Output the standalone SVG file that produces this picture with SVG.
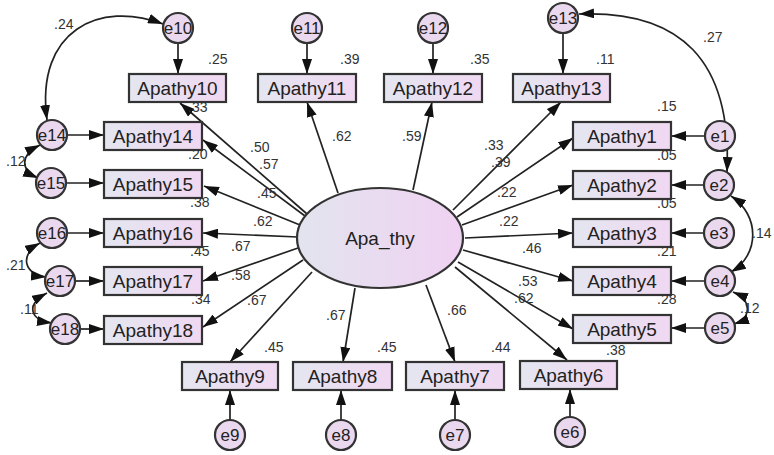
<svg xmlns="http://www.w3.org/2000/svg" width="774" height="455" viewBox="0 0 774 455">
  <defs>
    <linearGradient id="boxFill" x1="0" y1="0" x2="1" y2="0">
      <stop offset="0" stop-color="#e4e6f0"/>
      <stop offset="1" stop-color="#f0d8f2"/>
    </linearGradient>
    <linearGradient id="latentFill" x1="0" y1="0" x2="1" y2="0">
      <stop offset="0" stop-color="#e2e4ee"/>
      <stop offset="1" stop-color="#f0d2f2"/>
    </linearGradient>
    <marker id="ah" viewBox="0 0 15 10" refX="15" refY="5" markerWidth="15" markerHeight="10" markerUnits="userSpaceOnUse" orient="auto-start-reverse">
      <path d="M0,0 L15,5 L0,10 z" fill="#111"/>
    </marker>
    <style>
      .box { fill: url(#boxFill); stroke: #333; stroke-width: 2.2; }
      .err { fill: #ead8ef; stroke: #333; stroke-width: 2.2; }
      .lat { fill: url(#latentFill); stroke: #333; stroke-width: 2.2; }
      .lbl { font-family: "Liberation Sans", Arial, sans-serif; font-size: 19px; fill: #222; text-anchor: middle; }
      .elbl { font-family: "Liberation Sans", Arial, sans-serif; font-size: 17px; fill: #222; text-anchor: middle; }
      .num { font-family: "Liberation Sans", Arial, sans-serif; font-size: 14px; fill: #333; }
      .path { stroke: #222; stroke-width: 1.7; fill: none; marker-end: url(#ah); }
      .cov { stroke: #222; stroke-width: 1.7; fill: none; marker-start: url(#ah); marker-end: url(#ah); }
    </style>
  </defs>

  <rect width="774" height="455" fill="#ffffff"/>

  <!-- connectors: loadings, error terms and covariances -->
  <g id="connectors">
    <!-- latent to indicators -->
    <line class="path" x1="307" y1="214" x2="180" y2="103"/>
    <line class="path" x1="305" y1="216" x2="203" y2="140"/>
    <line class="path" x1="300" y1="225" x2="204" y2="186"/>
    <line class="path" x1="298" y1="237" x2="203" y2="233"/>
    <line class="path" x1="298" y1="248" x2="203" y2="281"/>
    <line class="path" x1="303" y1="260" x2="203" y2="327"/>
    <line class="path" x1="312" y1="272" x2="230" y2="362"/>
    <line class="path" x1="355" y1="288" x2="343" y2="362"/>
    <line class="path" x1="426" y1="285" x2="455" y2="362"/>
    <line class="path" x1="455" y1="267" x2="567" y2="360"/>
    <line class="path" x1="458" y1="262" x2="573" y2="329"/>
    <line class="path" x1="463" y1="250" x2="573" y2="281"/>
    <line class="path" x1="465" y1="238" x2="573" y2="233"/>
    <line class="path" x1="462" y1="225" x2="573" y2="185"/>
    <line class="path" x1="457" y1="217" x2="573" y2="138"/>
    <line class="path" x1="453" y1="210" x2="561" y2="102"/>
    <line class="path" x1="413" y1="190" x2="432" y2="102"/>
    <line class="path" x1="338" y1="193" x2="307" y2="102"/>

    <!-- error terms to indicators -->
    <line class="path" x1="178" y1="43" x2="178" y2="74"/>
    <line class="path" x1="307" y1="43" x2="307" y2="74"/>
    <line class="path" x1="433" y1="43" x2="433" y2="74"/>
    <line class="path" x1="563" y1="33" x2="563" y2="74"/>
    <line class="path" x1="705" y1="136" x2="671" y2="136"/>
    <line class="path" x1="704" y1="185" x2="671" y2="185"/>
    <line class="path" x1="704" y1="233" x2="671" y2="233"/>
    <line class="path" x1="705" y1="281" x2="671" y2="281"/>
    <line class="path" x1="705" y1="328" x2="671" y2="328"/>
    <line class="path" x1="67" y1="135" x2="104" y2="135"/>
    <line class="path" x1="66" y1="183" x2="104" y2="183"/>
    <line class="path" x1="67" y1="233" x2="104" y2="233"/>
    <line class="path" x1="75" y1="281" x2="104" y2="281"/>
    <line class="path" x1="80" y1="329" x2="104" y2="329"/>
    <line class="path" x1="230" y1="420" x2="230" y2="390"/>
    <line class="path" x1="341" y1="420" x2="341" y2="390"/>
    <line class="path" x1="455" y1="420" x2="455" y2="390"/>
    <line class="path" x1="570" y1="417" x2="570" y2="389"/>

    <!-- error covariances -->
    <path class="cov" d="M 163 24 C 100 0 35 30 47 120"/>
    <path class="cov" d="M 579 14 C 680 10 732 60 727 172"/>
    <path class="cov" d="M 731 196 C 760 215 760 255 731 272"/>
    <path class="cov" d="M 733 292 C 752 300 752 318 734 324"/>
    <path class="cov" d="M 40 145 C 20 155 20 170 38 178"/>
    <path class="cov" d="M 40 243 C 18 255 25 275 46 277"/>
    <path class="cov" d="M 47 293 C 25 305 30 320 52 323"/>
  </g>

  <!-- latent factor -->
  <g id="Apa_thy">
    <ellipse class="lat" cx="380" cy="238" rx="83" ry="50"/>
    <text class="lbl" x="380" y="245" font-size="20">Apa_thy</text>
  </g>

  <!-- indicators, top row -->
  <g id="Apathy10"><rect class="box" x="129" y="74" width="97" height="28"/><text class="lbl" x="177.5" y="95">Apathy10</text></g>
  <g id="Apathy11"><rect class="box" x="258" y="74" width="98" height="28"/><text class="lbl" x="307" y="95">Apathy11</text></g>
  <g id="Apathy12"><rect class="box" x="384" y="74" width="98" height="28"/><text class="lbl" x="433" y="95">Apathy12</text></g>
  <g id="Apathy13"><rect class="box" x="513" y="74" width="97" height="28"/><text class="lbl" x="561.5" y="95">Apathy13</text></g>

  <!-- indicators, right column -->
  <g id="Apathy1"><rect class="box" x="573" y="122" width="98" height="28"/><text class="lbl" x="622" y="143">Apathy1</text></g>
  <g id="Apathy2"><rect class="box" x="573" y="171" width="98" height="28"/><text class="lbl" x="622" y="192">Apathy2</text></g>
  <g id="Apathy3"><rect class="box" x="573" y="219" width="98" height="28"/><text class="lbl" x="622" y="240">Apathy3</text></g>
  <g id="Apathy4"><rect class="box" x="573" y="267" width="98" height="28"/><text class="lbl" x="622" y="288">Apathy4</text></g>
  <g id="Apathy5"><rect class="box" x="573" y="315" width="98" height="28"/><text class="lbl" x="622" y="336">Apathy5</text></g>

  <!-- indicators, left column -->
  <g id="Apathy14"><rect class="box" x="104" y="122" width="98" height="28"/><text class="lbl" x="153" y="143">Apathy14</text></g>
  <g id="Apathy15"><rect class="box" x="104" y="170" width="98" height="28"/><text class="lbl" x="153" y="191">Apathy15</text></g>
  <g id="Apathy16"><rect class="box" x="104" y="219" width="98" height="28"/><text class="lbl" x="153" y="240">Apathy16</text></g>
  <g id="Apathy17"><rect class="box" x="104" y="267" width="98" height="28"/><text class="lbl" x="153" y="288">Apathy17</text></g>
  <g id="Apathy18"><rect class="box" x="104" y="316" width="98" height="28"/><text class="lbl" x="153" y="337">Apathy18</text></g>

  <!-- indicators, bottom row -->
  <g id="Apathy9"><rect class="box" x="182" y="362" width="96" height="28"/><text class="lbl" x="230" y="383">Apathy9</text></g>
  <g id="Apathy8"><rect class="box" x="293" y="362" width="99" height="28"/><text class="lbl" x="342.5" y="383">Apathy8</text></g>
  <g id="Apathy7"><rect class="box" x="406" y="362" width="98" height="28"/><text class="lbl" x="455" y="383">Apathy7</text></g>
  <g id="Apathy6"><rect class="box" x="520" y="361" width="97" height="28"/><text class="lbl" x="568.5" y="382">Apathy6</text></g>

  <!-- error terms -->
  <g id="e10"><circle class="err" cx="178" cy="28" r="15"/><text class="elbl" x="178" y="34">e10</text></g>
  <g id="e11"><circle class="err" cx="307" cy="28" r="15"/><text class="elbl" x="307" y="34">e11</text></g>
  <g id="e12"><circle class="err" cx="433" cy="28" r="15"/><text class="elbl" x="433" y="34">e12</text></g>
  <g id="e13"><circle class="err" cx="563" cy="18" r="15"/><text class="elbl" x="563" y="24">e13</text></g>
  <g id="e1"><circle class="err" cx="720" cy="136" r="15"/><text class="elbl" x="720" y="142">e1</text></g>
  <g id="e2"><circle class="err" cx="719" cy="185" r="15"/><text class="elbl" x="719" y="191">e2</text></g>
  <g id="e3"><circle class="err" cx="719" cy="233" r="15"/><text class="elbl" x="719" y="239">e3</text></g>
  <g id="e4"><circle class="err" cx="720" cy="281" r="15"/><text class="elbl" x="720" y="287">e4</text></g>
  <g id="e5"><circle class="err" cx="720" cy="328" r="15"/><text class="elbl" x="720" y="334">e5</text></g>
  <g id="e14"><circle class="err" cx="52" cy="135" r="15"/><text class="elbl" x="52" y="141">e14</text></g>
  <g id="e15"><circle class="err" cx="51" cy="183" r="15"/><text class="elbl" x="51" y="189">e15</text></g>
  <g id="e16"><circle class="err" cx="52" cy="233" r="15"/><text class="elbl" x="52" y="239">e16</text></g>
  <g id="e17"><circle class="err" cx="60" cy="281" r="15"/><text class="elbl" x="60" y="287">e17</text></g>
  <g id="e18"><circle class="err" cx="65" cy="329" r="15"/><text class="elbl" x="65" y="335">e18</text></g>
  <g id="e9"><circle class="err" cx="230" cy="435" r="15"/><text class="elbl" x="230" y="441">e9</text></g>
  <g id="e8"><circle class="err" cx="341" cy="435" r="15"/><text class="elbl" x="341" y="441">e8</text></g>
  <g id="e7"><circle class="err" cx="455" cy="435" r="15"/><text class="elbl" x="455" y="441">e7</text></g>
  <g id="e6"><circle class="err" cx="570" cy="432" r="15"/><text class="elbl" x="570" y="438">e6</text></g>

  <!-- estimates -->
  <g id="estimates" class="num">
    <!-- squared multiple correlations -->
    <text x="208" y="64">.25</text>
    <text x="340" y="64">.39</text>
    <text x="470" y="64">.35</text>
    <text x="596" y="64">.11</text>
    <text x="657" y="111">.15</text>
    <text x="657" y="160">.05</text>
    <text x="657" y="208">.05</text>
    <text x="657" y="256">.21</text>
    <text x="657" y="304">.28</text>
    <text x="606" y="355">.38</text>
    <text x="188" y="112">.33</text>
    <text x="188" y="159">.20</text>
    <text x="190" y="207">.38</text>
    <text x="190" y="256">.45</text>
    <text x="191" y="304">.34</text>
    <text x="264" y="352">.45</text>
    <text x="377" y="352">.45</text>
    <text x="491" y="352">.44</text>
    <!-- standardized loadings -->
    <text x="250" y="152">.50</text>
    <text x="259" y="169">.57</text>
    <text x="257" y="198">.45</text>
    <text x="253" y="226">.62</text>
    <text x="231" y="251">.67</text>
    <text x="231" y="280">.58</text>
    <text x="247" y="305">.67</text>
    <text x="326" y="320">.67</text>
    <text x="447" y="315">.66</text>
    <text x="514" y="303">.62</text>
    <text x="518" y="286">.53</text>
    <text x="522" y="253">.46</text>
    <text x="499" y="226">.22</text>
    <text x="497" y="197">.22</text>
    <text x="491" y="167">.39</text>
    <text x="484" y="150">.33</text>
    <text x="402" y="141">.59</text>
    <text x="332" y="141">.62</text>
    <!-- error covariances -->
    <text x="54" y="29">.24</text>
    <text x="703" y="42">.27</text>
    <text x="752" y="238">.14</text>
    <text x="740" y="313">.12</text>
    <text x="6" y="166">.12</text>
    <text x="6" y="270">.21</text>
    <text x="20" y="314">.11</text>
  </g>
</svg>
